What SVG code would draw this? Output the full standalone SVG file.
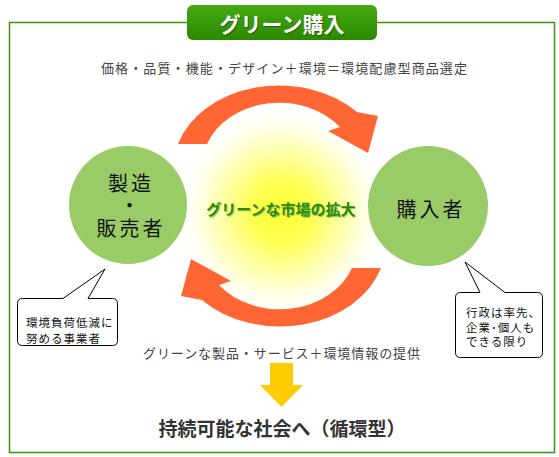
<svg xmlns="http://www.w3.org/2000/svg" width="559" height="457" viewBox="0 0 559 457">
<defs>
<radialGradient id="glow" cx="282" cy="212" r="108" gradientUnits="userSpaceOnUse">
<stop offset="0" stop-color="#ffff33"/>
<stop offset="0.3" stop-color="#ffff55"/>
<stop offset="0.65" stop-color="#ffffb0" stop-opacity="0.8"/>
<stop offset="1" stop-color="#ffffff" stop-opacity="0"/>
</radialGradient>
<linearGradient id="tg" x1="0" y1="0" x2="0" y2="1">
<stop offset="0" stop-color="#44aa11"/>
<stop offset="1" stop-color="#2b8800"/>
</linearGradient>
<path id="arc" d="M178,144 A106 83 0 0 1 357,112 L378,116 L368,153 L328,131 L340,127 A77 63 0 0 0 207,144 Z"/>
</defs>
<style>
text{font-family:"Noto Sans CJK JP","Noto Sans",sans-serif;}
.sub{font-size:13px;fill:#444;}
.node{fill:#99cc66;}
.nt{font-size:20px;fill:#111;letter-spacing:3px;}
.bub{fill:#fff;stroke:#000;stroke-width:1;}
.bt{font-size:11.5px;fill:#111;letter-spacing:1px;}
.arr{fill:#ff6633;}
</style>
<rect x="0" y="0" width="559" height="457" fill="#fff"/>
<rect x="9.5" y="22.5" width="545" height="430" fill="none" stroke="#339900" stroke-width="1.5"/>
<g id="title">
<rect x="187" y="5" width="190" height="35" rx="6" fill="url(#tg)"/>
<text x="283" y="24" text-anchor="middle" dominant-baseline="central" font-size="21" font-weight="bold" fill="#1a4d00" opacity="0.7">グリーン購入</text>
<text x="282" y="23" text-anchor="middle" dominant-baseline="central" font-size="21" font-weight="bold" fill="#fff">グリーン購入</text>
</g>
<text class="sub" x="101" y="67" dominant-baseline="central" textLength="366" lengthAdjust="spacing">価格・品質・機能・デザイン＋環境＝環境配慮型商品選定</text>
<circle cx="282" cy="212" r="108" fill="url(#glow)"/>
<g id="connectors">
<use href="#arc" class="arr"/>
<use href="#arc" class="arr" transform="rotate(180 279.5 206)"/>
</g>
<g id="market">
<text x="282" y="209" text-anchor="middle" dominant-baseline="central" font-size="15" font-weight="bold" fill="#99cc66">グリーンな市場の拡大</text>
<text x="281" y="208" text-anchor="middle" dominant-baseline="central" font-size="15" font-weight="bold" fill="#2e8b00">グリーンな市場の拡大</text>
</g>
<g id="maker">
<circle class="node" cx="128" cy="205" r="59"/>
<text class="nt" x="131" y="182" text-anchor="middle" dominant-baseline="central">製造</text>
<text class="nt" x="131" y="204" text-anchor="middle" dominant-baseline="central">・</text>
<text class="nt" x="131" y="227" text-anchor="middle" dominant-baseline="central">販売者</text>
</g>
<g id="buyer">
<circle class="node" cx="428" cy="206" r="60"/>
<text class="nt" x="431" y="208" text-anchor="middle" dominant-baseline="central">購入者</text>
</g>
<g id="note-maker">
<path class="bub" d="M22.5,298.5 H63 L105,269 L88,298.5 H112.5 Q117.5,298.5 117.5,303.5 V340.5 Q117.5,345.5 112.5,345.5 H22.5 Q17.5,345.5 17.5,340.5 V303.5 Q17.5,298.5 22.5,298.5 Z"/>
<text class="bt" x="26" y="322" dominant-baseline="central">環境負荷低減に</text>
<text class="bt" x="26" y="338" dominant-baseline="central">努める事業者</text>
</g>
<g id="note-buyer">
<path class="bub" d="M460.5,292.5 H480 L465,262 L505,292.5 H537.5 Q542.5,292.5 542.5,297.5 V352.5 Q542.5,357.5 537.5,357.5 H460.5 Q455.5,357.5 455.5,352.5 V297.5 Q455.5,292.5 460.5,292.5 Z"/>
<text class="bt" x="466" y="312" dominant-baseline="central">行政は率先、</text>
<text class="bt" x="466" y="327" dominant-baseline="central">企業･個人も</text>
<text class="bt" x="466" y="341" dominant-baseline="central">できる限り</text>
</g>
<text class="sub" x="143" y="352" dominant-baseline="central" textLength="277" lengthAdjust="spacing">グリーンな製品・サービス＋環境情報の提供</text>
<polygon points="270,363 293,363 293,385 303,385 281.5,407 260,385 270,385" fill="#ffcc00"/>
<text x="282" y="427" text-anchor="middle" dominant-baseline="central" font-size="19" font-weight="bold" fill="#333">持続可能な社会へ（循環型）</text>
</svg>
